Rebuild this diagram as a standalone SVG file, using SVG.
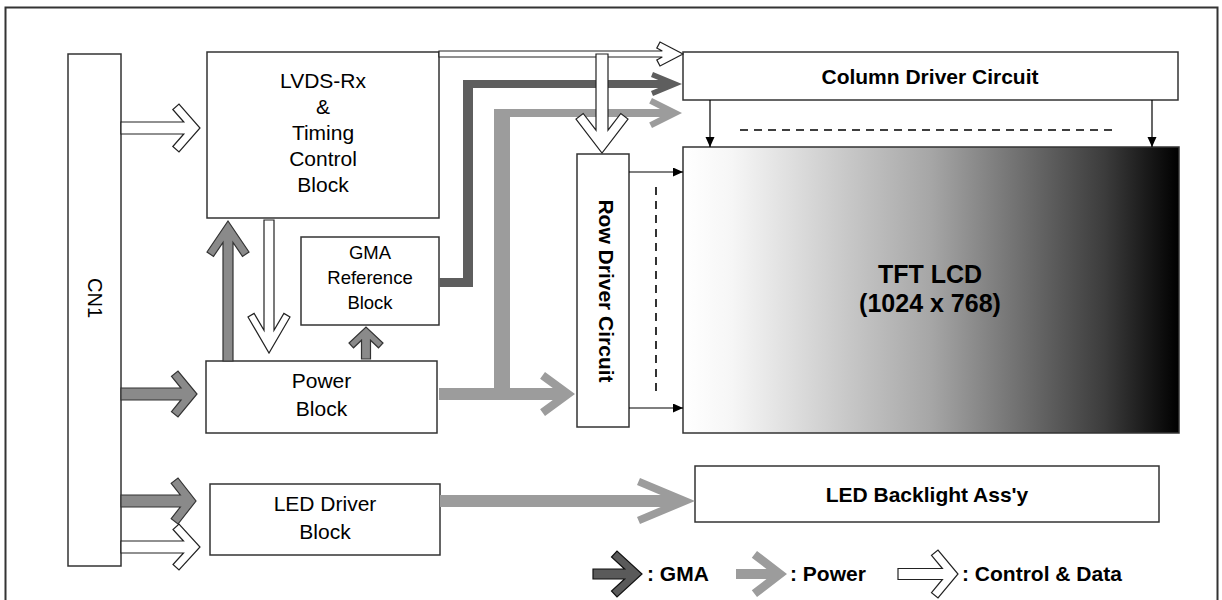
<svg xmlns="http://www.w3.org/2000/svg" width="1222" height="600" viewBox="0 0 1222 600">
<defs>
<style>
.box{fill:#fff;stroke:#333;stroke-width:1.5}
.t{font-family:"Liberation Sans",Arial,sans-serif;font-size:21px;fill:#000;text-anchor:middle}
.b{font-weight:bold}
.lg{font-family:"Liberation Sans",Arial,sans-serif;font-size:21px;font-weight:bold;fill:#000}
.wa{fill:#fff;stroke:#222;stroke-width:1.2;stroke-linejoin:miter}
.ga{fill:#8a8a8a;stroke:#333;stroke-width:1.2}
.pw{fill:#9c9c9c}
.gm{fill:#5e5e5e}
.thin{stroke:#000;stroke-width:1.2;fill:none;marker-end:url(#ah)}
.dash{stroke:#000;stroke-width:1.6;fill:none;stroke-dasharray:8 6}
</style>
<marker id="ah" markerUnits="userSpaceOnUse" markerWidth="10" markerHeight="10" refX="10" refY="4.5" orient="auto">
<path d="M0,0 L10,4.5 L0,9 z" fill="#000"/>
</marker>
<linearGradient id="tft" x1="0" y1="0" x2="1" y2="0">
<stop offset="0" stop-color="#ffffff"/>
<stop offset="0.1" stop-color="#f6f6f6"/>
<stop offset="0.5" stop-color="#a6a6a6"/>
<stop offset="0.85" stop-color="#3c3c3c"/>
<stop offset="1" stop-color="#000000"/>
</linearGradient>
</defs>
<rect x="5.5" y="7.5" width="1212" height="600" fill="#fff" stroke="#333" stroke-width="2"/>

<g id="cn1"><rect class="box" x="68" y="54" width="53" height="512"/>
<text class="t" transform="translate(95,298) rotate(90)" x="0" y="7" style="font-size:20px">CN1</text></g>

<g id="lvds"><rect class="box" x="207" y="52" width="232" height="166"/>
<text class="t" x="323" y="88">LVDS-Rx</text>
<text class="t" x="323" y="114">&amp;</text>
<text class="t" x="323" y="140">Timing</text>
<text class="t" x="323" y="166">Control</text>
<text class="t" x="323" y="192">Block</text></g>

<g id="gma"><rect class="box" x="301" y="237" width="138" height="88"/>
<text class="t" x="370" y="259" style="font-size:18.5px">GMA</text>
<text class="t" x="370" y="284" style="font-size:18.5px">Reference</text>
<text class="t" x="370" y="309" style="font-size:18.5px">Block</text></g>

<g id="power"><rect class="box" x="206" y="361" width="231" height="72"/>
<text class="t" x="321.5" y="387.5">Power</text>
<text class="t" x="321.5" y="415.5">Block</text></g>

<g id="led-driver"><rect class="box" x="210" y="484" width="230" height="71"/>
<text class="t" x="325" y="511">LED Driver</text>
<text class="t" x="325" y="539">Block</text></g>

<g id="column-driver"><rect class="box" x="683" y="52" width="495" height="48"/>
<text class="t b" x="930" y="83.5">Column Driver Circuit</text></g>

<g id="row-driver"><rect class="box" x="577" y="154" width="52" height="273"/>
<text class="t b" transform="translate(606,291) rotate(90)" x="0" y="7.5">Row Driver Circuit</text></g>

<g id="tft-lcd"><rect x="683" y="147" width="496" height="286" fill="url(#tft)" stroke="#333" stroke-width="1.5"/>
<text class="t b" x="930" y="283" style="font-size:25px">TFT LCD</text>
<text class="t b" x="930" y="312" style="font-size:25px">(1024 x 768)</text></g>

<g id="led-backlight"><rect class="box" x="695" y="466" width="464" height="56"/>
<text class="t b" x="927" y="501.5">LED Backlight Ass'y</text></g>

<g id="connectors">
<polygon class="gm" points="439,278 463,278 463,80 658.3,80 651,76.9 653,72 682,84 653,96 651,91.1 658.3,88 473,88 473,287 439,287"/>
<polygon class="pw" points="439,388 494,388 494,109 660,109 649.2,103.6 652,98 682,113 652,128 649.2,122.4 660,117 510,117 510,388 552.8,388 540.1,378.7 545,372 575,394 545,416 540.1,409.3 552.8,400 439,400"/>
<polygon class="pw" points="440,495 660.7,495 637,485.1 640,478 695,501 640,524 637,516.9 660.7,507 440,507"/>
<polygon class="wa" points="439,51 662.3,51 656.8,48.1 660,42 683,54 660,66 656.8,59.9 662.3,57 439,57"/>
<polygon class="wa" points="596,54 596,130.2 583.2,113.5 576,119 602,153 628,119 620.8,113.5 608,130.2 608,54"/>
<polygon class="wa" points="121,122 183.8,122 172.8,109.5 179,104 200,128 179,152 172.8,146.5 183.8,134 121,134"/>
<polygon class="ga" points="121,388 181,388 171.5,376.4 178,371 197,394 178,417 171.5,411.6 181,400 121,400"/>
<polygon class="ga" points="121,495 180.3,495 171.2,483.3 178,478 196,501 178,524 171.2,518.7 180.3,507 121,507"/>
<polygon class="wa" points="121,541 183.5,541 173,529.5 179,524 200,547 179,570 173,564.5 183.5,553 121,553"/>
<polygon class="ga" points="223,361 223,242.4 213.5,256.4 207,252 228,221 249,252 242.5,256.4 233,242.4 233,361"/>
<polygon class="wa" points="264,220 264,330.4 254.1,313.4 248,317 269,353 290,317 283.9,313.4 274,330.4 274,220"/>
<polygon class="ga" points="361.5,359 361.5,340.2 353.5,347.8 349,343 366,327 383,343 378.5,347.8 370.5,340.2 370.5,359"/>
<line class="thin" x1="710" y1="100" x2="710" y2="147"/>
<line class="thin" x1="1152" y1="100" x2="1152" y2="147"/>
<line class="dash" x1="740" y1="130" x2="1112" y2="130"/>
<line class="thin" x1="629" y1="172" x2="683" y2="172"/>
<line class="thin" x1="629" y1="408" x2="683" y2="408"/>
<line class="dash" x1="656" y1="187" x2="656" y2="392"/>
</g>

<g id="legend">
<polygon points="593,569 624.6,569 611.5,557 617,551 642,574 617,597 611.5,591 624.6,579 593,579" fill="#5a5a5a" stroke="#111" stroke-width="1.2"/>
<text class="lg" x="647" y="581">: GMA</text>
<polygon class="pw" points="736,569 766.5,569 751.8,557.8 757,551 787,574 757,597 751.8,590.2 766.5,579 736,579"/>
<text class="lg" x="790" y="581">: Power</text>
<polygon class="wa" points="898,568.5 942.4,568.5 931.5,555.4 938,550 958,574 938,598 931.5,592.6 942.4,579.5 898,579.5"/>
<text class="lg" x="962" y="581">: Control &amp; Data</text>
</g>
</svg>
